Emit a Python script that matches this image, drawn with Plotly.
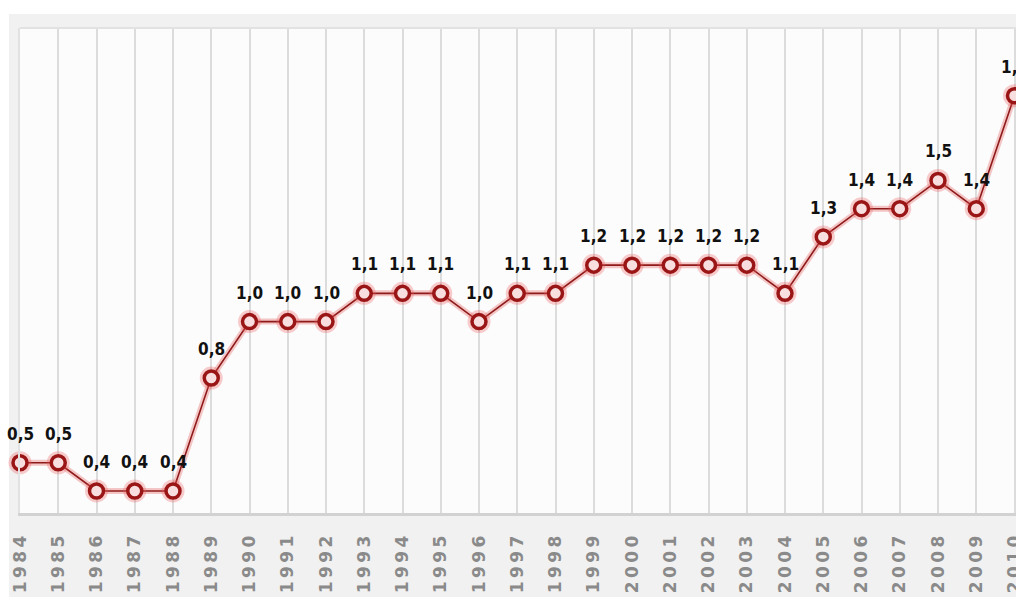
import plotly.graph_objects as go

years = list(range(1984, 2011))
values = [0.5, 0.5, 0.4, 0.4, 0.4, 0.8, 1.0, 1.0, 1.0, 1.1, 1.1, 1.1, 1.0, 1.1, 1.1,
          1.2, 1.2, 1.2, 1.2, 1.2, 1.1, 1.3, 1.4, 1.4, 1.5, 1.4, 1.8]
year_labels = [str(y) for y in years]
value_labels = [f"{v:.1f}".replace(".", ",") for v in values]

W, H = 1016, 597
L, T, B = 20, 28, 513
plot_h = B - T
plot_w = W - L

# spaced-out tick labels (letter spacing look)
spaced_year_labels = ["\u2009".join(s) for s in year_labels]

fig = go.Figure()

fig.add_trace(go.Scatter(x=years, y=values, mode="lines",
                         line=dict(color="rgba(225,70,70,0.30)", width=6),
                         hoverinfo="skip", cliponaxis=False))
fig.add_trace(go.Scatter(x=years, y=values, mode="lines",
                         line=dict(color="#8e1a1a", width=1.6),
                         hoverinfo="skip", cliponaxis=False))
fig.add_trace(go.Scatter(x=years, y=values, mode="markers",
                         marker=dict(size=23, color="rgba(235,90,90,0.30)", line=dict(width=0)),
                         hoverinfo="skip", cliponaxis=False))
fig.add_trace(go.Scatter(x=years, y=values, mode="markers",
                         marker=dict(size=14, color="#f8dede", symbol="circle",
                                     line=dict(color="#9a1515", width=3.5)),
                         cliponaxis=False))

for x, y, t in zip(years, values, value_labels):
    fig.add_annotation(x=x, y=y, text=t, showarrow=False, yshift=29,
                       font=dict(family="DejaVu Sans Condensed, Liberation Sans Narrow, Arial Narrow",
                                 size=17, color="#111111", weight="bold"))

# gray panel: paper is gray, white strips at top and left
fig.add_shape(type="rect", xref="paper", yref="paper",
              x0=-0.05, x1=1.05, y0=1 + (T - 14) / plot_h, y1=1.2,
              fillcolor="#ffffff", line=dict(width=0), layer="below")
fig.add_shape(type="rect", xref="paper", yref="paper",
              x0=-0.05, x1=(9 - L) / plot_w, y0=-0.3, y1=1.2,
              fillcolor="#ffffff", line=dict(width=0), layer="below")

px_per_year = 38.25

fig.update_layout(
    width=W, height=H,
    margin=dict(l=L, r=0, t=T, b=H - B, autoexpand=False),
    paper_bgcolor="#f1f1f1",
    plot_bgcolor="#fcfcfc",
    showlegend=False,
    xaxis=dict(range=[1984, 1984 + plot_w / px_per_year], tickmode="array", tickvals=years,
               ticktext=spaced_year_labels, tickangle=-90, showgrid=True,
               gridcolor="#dcdcdc", gridwidth=2, zeroline=False,
               showline=True, linecolor="#d2d2d2", linewidth=3, mirror=False,
               ticks="outside", ticklen=13, tickcolor="rgba(0,0,0,0)",
               ticklabeloverflow="allow", automargin=False,
               tickfont=dict(family="DejaVu Sans", size=17, color="#8a8a8a", weight="bold")),
    yaxis=dict(range=[0.322, 2.04], showgrid=False, zeroline=False,
               showticklabels=False, showline=True, linecolor="#e2e2e2",
               linewidth=2, mirror=False, automargin=False),
)
# top border line
fig.add_shape(type="line", xref="paper", yref="paper", x0=0, x1=1, y0=1, y1=1,
              line=dict(color="#e2e2e2", width=2))

fig.write_html("out.html")
